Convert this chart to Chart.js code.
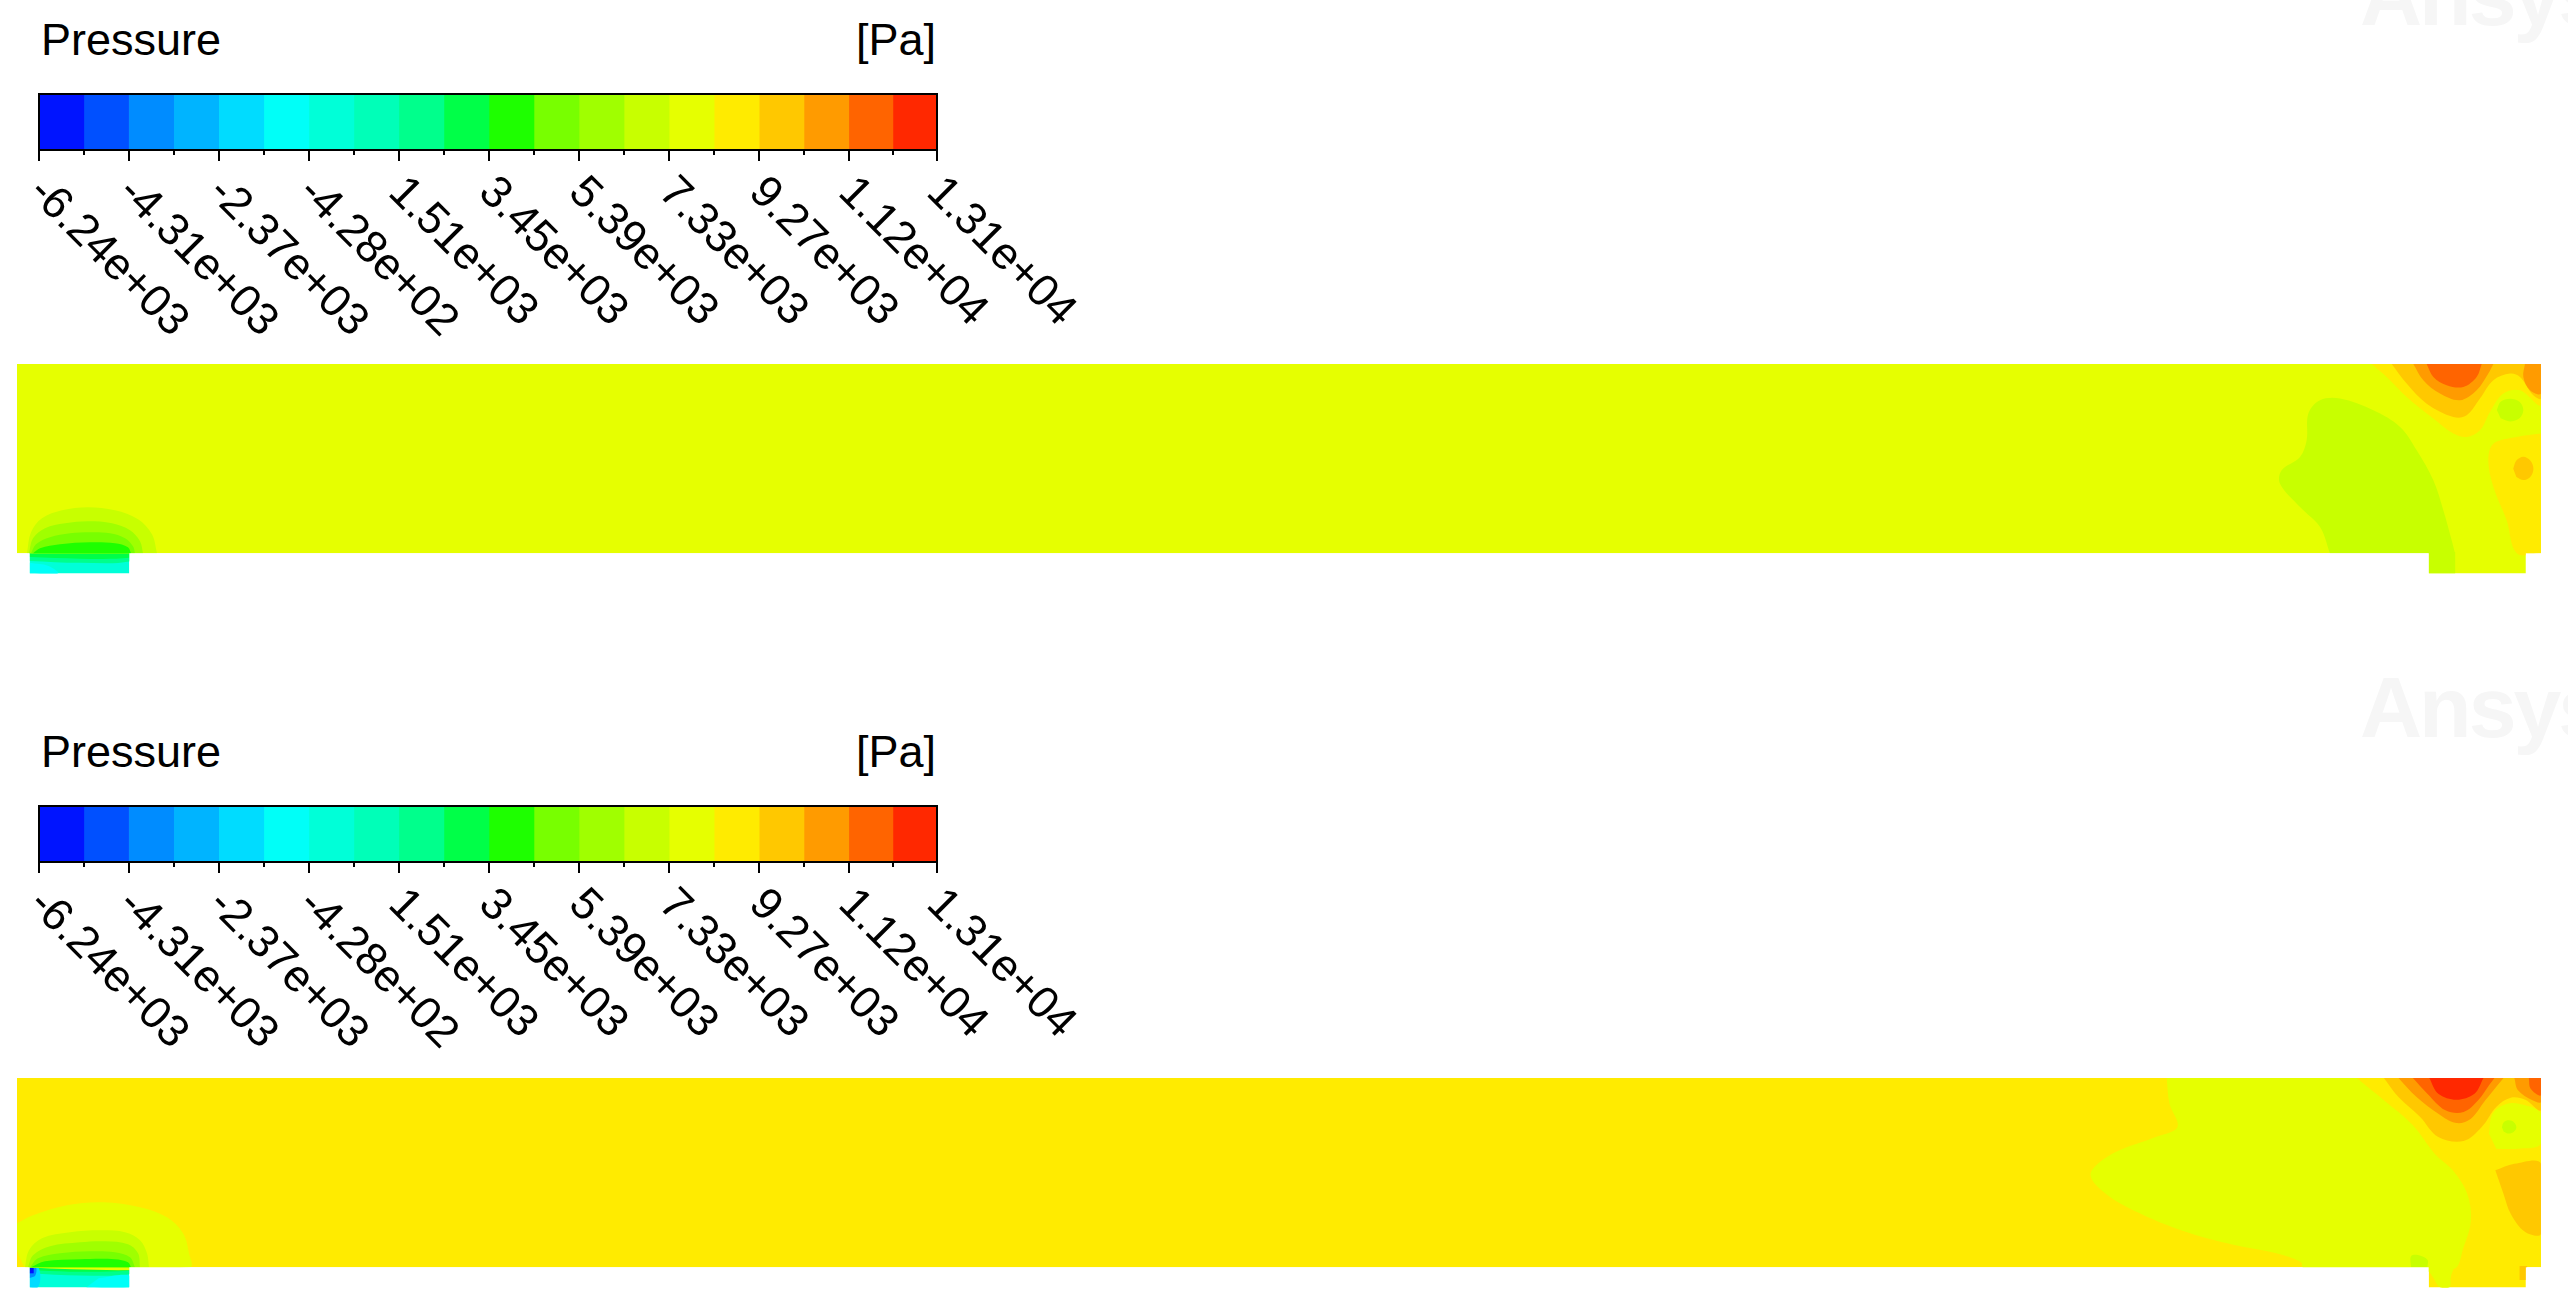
<!DOCTYPE html>
<html>
<head>
<meta charset="utf-8">
<script src="https://cdn.jsdelivr.net/npm/chart.js@4.4.1/dist/chart.umd.min.js"></script>
<style>
  body { margin: 0; width: 2568px; height: 1299px; overflow: hidden; background: #fff; position: relative; }
  canvas, .ttl, .wm { position: absolute; }
  .ttl { font: 45px/45px "Liberation Sans", Arial, sans-serif; color: #000; white-space: nowrap; }
  .unit { width: 400px; text-align: right; }
  .wm { font: bold 86px/86px "Liberation Sans", Arial, sans-serif; color: #f6f6f6; letter-spacing: -3px; }
</style>
</head>
<body>
<div class="wm" style="left:2360px;top:-48px">Ansys</div>
<div class="wm" style="left:2360px;top:664px">Ansys</div>

<div class="ttl" style="left:41px;top:17px">Pressure</div>
<div class="ttl unit" style="left:536px;top:17px">[Pa]</div>
<canvas id="barA" width="1100" height="360" style="left:0;top:0"></canvas>
<canvas id="fieldA" width="2524" height="210" style="left:17px;top:364px"></canvas>

<div class="ttl" style="left:41px;top:729px">Pressure</div>
<div class="ttl unit" style="left:536px;top:729px">[Pa]</div>
<canvas id="barB" width="1100" height="360" style="left:0;top:712px"></canvas>
<canvas id="fieldB" width="2524" height="210" style="left:17px;top:1078px"></canvas>

<script>
/* COLOUR MAP (20 contour levels) */
const levelColors = ["#0014ff", "#0050ff", "#008cff", "#00b4ff", "#00dcff",
  "#00fff8", "#00ffd8", "#00ffb8", "#00ff8c", "#00ff48",
  "#1eff00", "#78ff00", "#a0ff00", "#c8ff00", "#e6ff00",
  "#ffeb00", "#ffc800", "#ff9b00", "#ff6400", "#ff2800"];
const levels = [-6240, -5275, -4310, -3340, -2370, -1399, -428, 541, 1510, 2480,
  3450, 4420, 5390, 6360, 7330, 8300, 9270, 10235, 11200, 12150, 13100];
const tickValues = [-6240, -4310, -2370, -428, 1510, 3450, 5390, 7330, 9270, 11200, 13100];
const tickLabels = ["-6.24e+03", "-4.31e+03", "-2.37e+03", "-4.28e+02", "1.51e+03",
  "3.45e+03", "5.39e+03", "7.33e+03", "9.27e+03", "1.12e+04", "1.31e+04"];

/* GEOMETRY (mm): channel 400 x 30, inlet / outlet stubs below */
const channel = [[0, 0], [400, 0], [400, 30], [0, 30]];
const inletStub = [[2.0, -3.17], [17.8, -3.17], [17.8, 0.15], [2.0, 0.15]];
const outletStub = [[382.2, -3.17], [397.6, -3.17], [397.6, 0.15], [382.2, 0.15]];
const walls = [
  [[-1, -4], [2.0, -4], [2.0, 0], [-1, 0]],
  [[17.8, -4], [382.2, -4], [382.2, 0], [17.8, 0]],
  [[397.6, -4], [401, -4], [401, 0], [397.6, 0]],
];

/* CASE A contours */
const aInletStub8 = [[2.0, 0], [17.8, 0], [17.8, -1.3], [10, -1.5], [2.0, -1.2]];
const aInletStub9 = [[2.0, 0], [17.8, 0], [17.8, -0.7], [10, -0.85], [2.0, -0.6]];
const aInletStub5 = [[2.0, -3.17], [6.5, -3.17], [5.0, -2.0], [2.0, -1.5]];
const aInlet13 = [[1.58, 0], [2.22, 3.33], [3.96, 5.55], [7.13, 6.81], [11.25, 7.29], [15.53, 6.81], [19.18, 5.39], [21.39, 3.01], [22.19, 0]];
const aInlet12 = [[1.9, 0], [2.54, 2.38], [4.44, 3.96], [7.61, 4.75], [11.25, 5.07], [15.06, 4.75], [17.91, 3.65], [19.49, 1.9], [19.97, 0]];
const aInlet11 = [[2.22, 0], [3.01, 1.43], [5.23, 2.54], [8.4, 3.17], [11.57, 3.33], [14.74, 3.17], [17.12, 2.38], [18.38, 1.11], [18.7, 0]];
const aInlet10 = [[2.54, 0], [3.65, 0.79], [6.81, 1.43], [11.57, 1.74], [15.53, 1.58], [17.59, 0.95], [18.07, 0]];
const aOutlet13 = [[366.56, 0], [364.98, 4.18], [361.81, 7.35], [358.64, 11.04], [358.9, 13.16], [361.81, 15.27], [362.86, 17.91], [363.13, 22.14], [364.98, 24.25], [368.15, 24.52], [373.43, 22.67], [377.66, 20.03], [380.3, 16.33], [382.94, 11.57], [384.52, 6.82], [385.84, 2.06], [386.37, 0]];
const aOutletStub13 = [[382.2, -3.17], [386.5, -3.17], [386.4, 0.2], [382.2, 0.2]];
const aOutletRight15 = [[400, 18.97], [396.15, 18.44], [392.45, 17.38], [391.65, 14.74], [392.45, 10.52], [394.56, 5.23], [396.15, 0], [400, 0]];
const aOutletSpot16 = [[395.6, 13.4], [396.1, 14.7], [397.2, 15.3], [398.3, 14.7], [398.8, 13.4], [398.3, 12.1], [397.2, 11.6], [396.1, 12.1]];
const aOutletTop15 = [[373.16, 30], [375.54, 27.95], [378.71, 24.78], [382.94, 21.35], [386.11, 18.97], [388.22, 18.44], [390.33, 19.5], [391.92, 22.4], [394.03, 25.31], [396.67, 25.84], [400, 23.46], [400, 30]];
const aOutletTop16 = [[376.34, 30], [378.71, 26.89], [381.88, 23.72], [386.11, 21.61], [388.22, 21.87], [390.33, 24.52], [392.45, 27.42], [395.09, 28.48], [396.67, 27.95], [398.78, 25.04], [400, 24.52], [400, 30]];
const aOutletCorner17 = [[397.46, 30], [397.2, 27.95], [398.26, 25.84], [400, 25.31], [400, 30]];
const aOutletTop17 = [[379.77, 30], [381.35, 27.42], [383.99, 25.31], [387.16, 24.25], [389.8, 25.84], [391.65, 28.48], [392.45, 30]];
const aOutletTop18 = [[381.88, 30], [382.94, 27.95], [385.05, 26.63], [387.69, 26.36], [389.8, 27.95], [390.6, 30]];
const aOutletDot13 = [[393.0, 22.7], [393.6, 24.0], [395.1, 24.5], [396.6, 24.0], [397.2, 22.7], [396.6, 21.4], [395.1, 20.9], [393.6, 21.4]];

/* CASE B contours */
const bInletStub8 = [[2.0, 0], [17.8, 0], [17.8, -1.1], [10, -1.3], [2.0, -1.0]];
const bInletStub9 = [[3.5, 0], [17.8, 0], [17.8, -0.5], [10, -0.7], [3.5, -0.5]];
const bInletStub5 = [[11, -3.17], [17.8, -3.17], [17.8, -1.3], [13, -1.7]];
const bInletStub4 = [[2.0, -3.17], [3.3, -3.17], [3.7, -1.5], [3.3, 0], [2.0, 0]];
const bInletStub2 = [[2.0, -1.7], [2.9, -1.3], [3.0, 0], [2.0, 0]];
const bInletStub0 = [[2.0, -0.95], [2.65, -0.95], [2.65, -0.1], [2.0, -0.1]];
const bInlet14 = [[0, 6.97], [2.54, 8.24], [7.92, 9.83], [13.63, 10.3], [19.49, 9.51], [23.77, 7.92], [26.31, 5.39], [27.26, 2.22], [27.42, 0], [1.58, 0], [0.48, 1.43], [0, 2.69]];
const bInlet13 = [[1.27, 0], [1.9, 2.69], [3.96, 4.6], [8.4, 5.55], [13.15, 5.86], [17.12, 5.55], [19.49, 4.28], [20.6, 2.22], [20.92, 0]];
const bInlet12 = [[1.74, 0], [2.54, 1.9], [5.23, 3.33], [9.98, 3.96], [13.95, 4.12], [17.59, 3.65], [19.18, 2.22], [19.49, 0]];
const bInlet11 = [[2.06, 0], [3.33, 1.43], [6.81, 2.22], [11.57, 2.54], [15.53, 2.38], [17.91, 1.58], [18.7, 0]];
const bInlet10 = [[2.22, 0], [4.44, 0.95], [9.98, 1.27], [15.53, 1.27], [17.59, 0.79], [18.07, 0]];
const bOutlet14 = [[340.67, 30], [341.13, 25.93], [342.39, 22.23], [338.94, 20.65], [333.2, 18.54], [329.76, 16.42], [328.61, 14.57], [330.33, 12.2], [334.35, 9.56], [342.96, 5.86], [351.57, 3.48], [357.89, 2.27], [361.91, 0.84], [362.48, -0.3], [386.02, -0.3], [387.74, 3.22], [388.89, 7.44], [388.31, 11.67], [386.02, 15.37], [383.15, 18.01], [379.7, 22.5], [375.11, 26.46], [370.81, 30]];
const bOutletStub14 = [[382.2, 0.2], [386.0, 0.2], [385.7, -1.6], [385.5, -3.17], [384.0, -3.17], [382.9, -1.6], [382.2, -0.5]];
const bOutletPatch13 = [[379.4, 0], [379.4, 1.75], [380.5, 1.95], [382.0, 1.2], [382.0, 0]];
const bOutletRight14 = [[391.76, 21.18], [392.33, 24.35], [394.63, 25.93], [397.5, 25.67], [400, 24.35], [400, 19.59], [396.35, 18.8], [392.91, 18.8]];
const bOutletDot13 = [[393.8, 22.2], [394.1, 23.0], [394.9, 23.3], [395.7, 23.0], [396.1, 22.2], [395.7, 21.5], [394.9, 21.2], [394.1, 21.5]];
const bOutletRight16 = [[392.76, 15.37], [395.78, 16.42], [400, 16.42], [400, 5.33], [397.5, 5.6], [395.2, 8.5], [394.05, 11.67]];
const bOutletStub16 = [[396.6, 0.2], [397.8, 0.2], [397.8, -2.0], [396.6, -2.0]];
const bOutletTop16 = [[375.11, 30], [377.41, 26.99], [380.85, 23.82], [383.72, 20.65], [387.74, 20.02], [390.61, 22.23], [392.91, 25.4], [395.2, 26.88], [397.5, 26.57], [400, 24.88], [400, 30]];
const bOutletTop17 = [[377.41, 30], [380.28, 26.99], [383.72, 24.35], [386.59, 22.87], [388.89, 23.56], [391.18, 26.46], [393.77, 29.63], [394.05, 30]];
const bOutletCorner17 = [[395.78, 30], [396.35, 28.05], [398.65, 26.46], [400, 26.2], [400, 30]];
const bOutletTop18 = [[379.7, 30], [381.99, 27.52], [384.87, 24.88], [387.74, 24.61], [390.04, 26.46], [391.76, 28.84], [392.62, 30]];
const bOutletCorner18 = [[398.07, 30], [398.36, 28.31], [400, 27.25], [400, 30]];
const bOutletTop19 = [[382.29, 30], [383.72, 27.52], [386.59, 26.57], [389.46, 27.52], [390.89, 30]];

/* LAYERS, drawn bottom to top: [points, level, smooth] */
const layersA = [
  [channel, 14, 0], [inletStub, 6, 0], [outletStub, 14, 0],
  [aInletStub8, 8, 1], [aInletStub9, 9, 1], [aInletStub5, 5, 1],
  [aInlet13, 13, 1], [aInlet12, 12, 1], [aInlet11, 11, 1], [aInlet10, 10, 1],
  [aOutlet13, 13, 1], [aOutletStub13, 13, 0],
  [aOutletRight15, 15, 1], [aOutletSpot16, 16, 1],
  [aOutletTop15, 15, 1], [aOutletTop16, 16, 1], [aOutletCorner17, 17, 1],
  [aOutletTop17, 17, 1], [aOutletTop18, 18, 1], [aOutletDot13, 13, 1],
];
const layersB = [
  [channel, 15, 0], [inletStub, 6, 0], [outletStub, 15, 0],
  [bInletStub8, 8, 1], [bInletStub9, 9, 1], [bInletStub5, 5, 1],
  [bInletStub4, 4, 1], [bInletStub2, 2, 1], [bInletStub0, 0, 0],
  [bInlet14, 14, 1], [bInlet13, 13, 1], [bInlet12, 12, 1], [bInlet11, 11, 1], [bInlet10, 10, 1],
  [bOutlet14, 14, 1], [bOutletStub14, 14, 1], [bOutletPatch13, 13, 1],
  [bOutletRight14, 14, 1], [bOutletDot13, 13, 1], [bOutletRight16, 16, 1], [bOutletStub16, 16, 0],
  [bOutletTop16, 16, 1], [bOutletTop17, 17, 1], [bOutletCorner17, 17, 1],
  [bOutletTop18, 18, 1], [bOutletCorner18, 18, 1], [bOutletTop19, 19, 1],
];

/* COLOUR BAR */
const colorbarAxis = {
  id: "colorbarAxis",
  afterDatasetsDraw(chart) {
    const { ctx, chartArea: a, scales: { x } } = chart;
    ctx.save();
    ctx.strokeStyle = "#000";
    ctx.lineWidth = 2;
    ctx.strokeRect(a.left, a.top, a.right - a.left, a.bottom - a.top);
    levels.forEach((v, i) => {
      const px = Math.round(x.getPixelForValue(v));
      ctx.beginPath();
      ctx.moveTo(px, a.bottom);
      ctx.lineTo(px, a.bottom + (i % 2 ? 5 : 11));
      ctx.stroke();
    });
    ctx.fillStyle = "#000";
    ctx.font = '45px "Liberation Sans", Arial, sans-serif';
    ctx.textAlign = "left";
    ctx.textBaseline = "alphabetic";
    tickValues.forEach((v, i) => {
      ctx.save();
      ctx.translate(x.getPixelForValue(v) - 12, a.bottom + 44);
      ctx.rotate(Math.PI / 4);
      ctx.fillText(tickLabels[i], 0, 0);
      ctx.restore();
    });
    ctx.restore();
  },
};

function makeColorbar(id) {
  new Chart(document.getElementById(id), {
    type: "bar",
    data: {
      labels: ["Pressure"],
      datasets: levelColors.map((c, i) => ({
        data: [[levels[i], levels[i + 1]]],
        backgroundColor: c,
        borderWidth: 0,
        barPercentage: 1,
        categoryPercentage: 1,
        grouped: false,
      })),
    },
    options: {
      indexAxis: "y",
      responsive: false,
      animation: false,
      devicePixelRatio: 1,
      layout: { padding: { left: 39, right: 163, top: 94, bottom: 210 } },
      scales: {
        x: { type: "linear", min: levels[0], max: levels[levels.length - 1], display: false },
        y: { display: false },
      },
      plugins: { legend: { display: false }, tooltip: { enabled: false } },
    },
    plugins: [colorbarAxis],
  });
}

/* CONTOUR FIELD */
function makeField(id, layers) {
  const sets = layers.map(([pts, lvl, smooth]) => ({ pts, color: levelColors[lvl], smooth }));
  walls.forEach((pts) => sets.push({ pts, color: "#ffffff", smooth: 0 }));
  new Chart(document.getElementById(id), {
    type: "line",
    data: {
      datasets: sets.map((s, i) => ({
        data: s.pts.map(([x, y]) => ({ x, y })),
        backgroundColor: s.color,
        borderWidth: 0,
        pointRadius: 0,
        fill: "shape",
        tension: s.smooth ? 0.35 : 0,
        order: -i,
      })),
    },
    options: {
      responsive: false,
      animation: false,
      devicePixelRatio: 1,
      layout: { padding: 0 },
      scales: {
        x: { type: "linear", min: 0, max: 400, display: false },
        y: { type: "linear", min: -3.28, max: 30, display: false },
      },
      plugins: { legend: { display: false }, tooltip: { enabled: false } },
    },
  });
}

makeColorbar("barA");
makeColorbar("barB");
makeField("fieldA", layersA);
makeField("fieldB", layersB);
</script>
</body>
</html>
